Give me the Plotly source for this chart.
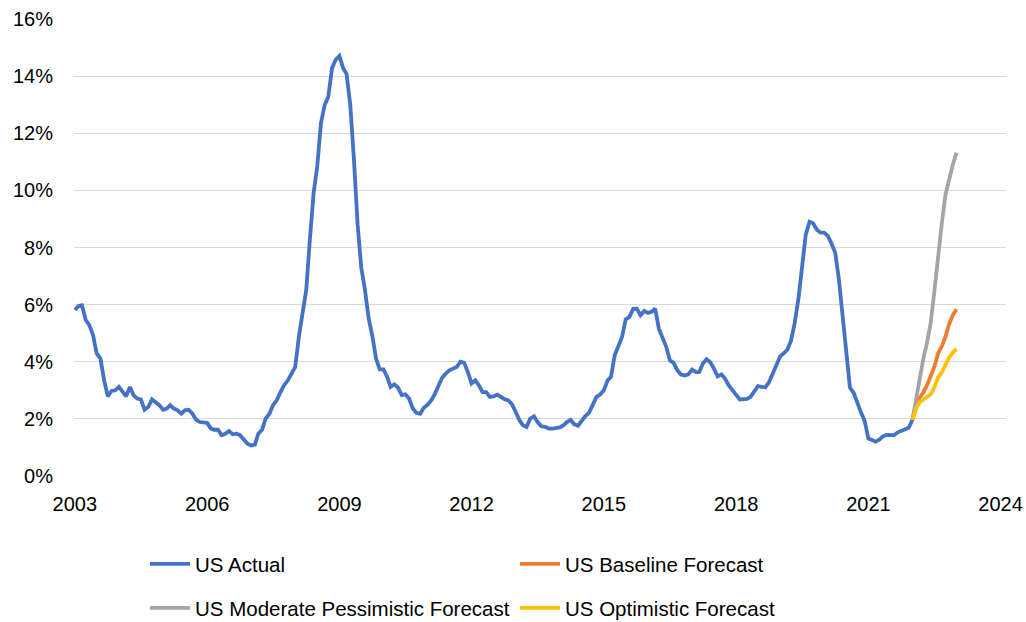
import pandas as pd
import plotly.graph_objects as go

# ---------------- data (monthly) ----------------
actual_start = "2003-01-01"
us_actual = [
    5.81, 5.95, 5.98, 5.46, 5.28, 4.93, 4.29, 4.11, 3.35, 2.79, 2.98, 3.00,   # 2003
    3.12, 2.94, 2.79, 3.12, 2.83, 2.71, 2.68, 2.32, 2.42, 2.68, 2.59, 2.48,   # 2004
    2.32, 2.36, 2.48, 2.36, 2.30, 2.18, 2.30, 2.32, 2.18, 1.97, 1.89, 1.89,   # 2005
    1.86, 1.66, 1.62, 1.62, 1.43, 1.48, 1.58, 1.46, 1.48, 1.43, 1.27, 1.13,   # 2006
    1.07, 1.10, 1.48, 1.62, 2.01, 2.18, 2.48, 2.65, 2.94, 3.18, 3.35, 3.61,   # 2007
    3.82, 4.90, 5.70, 6.51, 8.26, 9.90, 10.83, 12.35, 12.99, 13.28, 14.28, 14.57,  # 2008
    14.71, 14.28, 14.08, 13.00, 11.10, 8.80, 7.30, 6.51, 5.50, 4.90, 4.10, 3.73,   # 2009
    3.73, 3.47, 3.12, 3.21, 3.10, 2.83, 2.86, 2.71, 2.36, 2.21, 2.18, 2.39,   # 2010
    2.49, 2.65, 2.86, 3.12, 3.43, 3.59, 3.70, 3.76, 3.82, 4.00, 3.96, 3.64,   # 2011
    3.24, 3.35, 3.18, 2.94, 2.94, 2.77, 2.79, 2.85, 2.77, 2.69, 2.65, 2.51,   # 2012
    2.24, 1.95, 1.78, 1.72, 2.01, 2.09, 1.89, 1.74, 1.72, 1.66, 1.66, 1.69,   # 2013
    1.70, 1.78, 1.89, 1.96, 1.81, 1.76, 1.95, 2.10, 2.22, 2.50, 2.77, 2.85,   # 2014
    3.00, 3.35, 3.47, 4.23, 4.52, 4.87, 5.48, 5.57, 5.85, 5.86, 5.63, 5.78,   # 2015
    5.71, 5.75, 5.86, 5.16, 4.84, 4.52, 4.05, 3.96, 3.70, 3.55, 3.52, 3.56,   # 2016
    3.73, 3.64, 3.64, 3.94, 4.09, 3.98, 3.76, 3.49, 3.56, 3.41, 3.17, 2.98,   # 2017
    2.84, 2.68, 2.68, 2.70, 2.77, 2.98, 3.15, 3.12, 3.11, 3.29, 3.61, 3.94,   # 2018
    4.19, 4.30, 4.42, 4.74, 5.35, 6.20, 7.24, 8.45, 8.90, 8.85, 8.62, 8.52,   # 2019
    8.52, 8.40, 8.14, 7.82, 6.90, 5.55, 4.15, 3.10, 2.91, 2.55, 2.22, 1.93,   # 2020
    1.31, 1.26, 1.20, 1.27, 1.39, 1.44, 1.43, 1.43, 1.53, 1.59, 1.62, 1.69,   # 2021
    1.97,                                                                      # 2022-01
]

forecast_start = "2022-01-01"
us_baseline = [1.97, 2.51, 2.73, 2.92, 3.17, 3.47, 3.82, 4.29, 4.54, 4.87, 5.32, 5.63, 5.84]
us_pessimistic = [1.97, 2.71, 3.41, 4.11, 4.66, 5.36, 6.45, 7.79, 8.84, 9.84, 10.39, 10.89, 11.32]
us_optimistic = [1.97, 2.36, 2.58, 2.68, 2.75, 2.86, 3.10, 3.45, 3.63, 3.91, 4.15, 4.32, 4.45]

year_ticks = ["2003", "2006", "2009", "2012", "2015", "2018", "2021", "2024"]
pct_ticks = [0, 2, 4, 6, 8, 10, 12, 14, 16]

series_names = ["US Actual", "US Baseline Forecast",
                "US Moderate Pessimistic Forecast", "US Optimistic Forecast"]
series_colors = ["#4472C4", "#ED7D31", "#A5A5A5", "#FFC000"]

# ---------------- figure ----------------
actual_dates = pd.date_range(actual_start, periods=len(us_actual), freq="MS")
forecast_dates = pd.date_range(forecast_start, periods=len(us_baseline), freq="MS")

FONT = "Liberation Sans, Arial, sans-serif"
W, H = 1026, 622

fig = go.Figure()
fig.add_trace(go.Scatter(x=actual_dates, y=us_actual, mode="lines", name=series_names[0],
                         line=dict(color=series_colors[0], width=3.8), legend="legend"))
fig.add_trace(go.Scatter(x=forecast_dates, y=us_baseline, mode="lines", name=series_names[1],
                         line=dict(color=series_colors[1], width=3.8), legend="legend"))
fig.add_trace(go.Scatter(x=forecast_dates, y=us_pessimistic, mode="lines", name=series_names[2],
                         line=dict(color=series_colors[2], width=3.8), legend="legend2"))
fig.add_trace(go.Scatter(x=forecast_dates, y=us_optimistic, mode="lines", name=series_names[3],
                         line=dict(color=series_colors[3], width=3.8), legend="legend2"))

legend_common = dict(orientation="h", xref="container", yref="container",
                     xanchor="left", yanchor="middle", entrywidth=315, entrywidthmode="pixels",
                     itemwidth=40, bgcolor="rgba(0,0,0,0)", borderwidth=0,
                     font=dict(family=FONT, size=20.5, color="#000000"))

fig.update_layout(
    width=W, height=H,
    margin=dict(l=74, r=20, t=19, b=146, autoexpand=False),
    paper_bgcolor="white", plot_bgcolor="white",
    font=dict(family=FONT, size=20, color="#000000"),
    showlegend=True,
    legend=dict(legend_common, x=145 / W, y=1 - 564 / H),
    legend2=dict(legend_common, x=145 / W, y=1 - 608 / H),
    xaxis=dict(
        type="date",
        range=["2002-12-25", "2024-02-15"],
        tickvals=[f"{y}-01-01" for y in year_ticks],
        ticktext=year_ticks,
        showgrid=False, zeroline=False, showline=False,
        ticks="", ticklabelstandoff=14,
        tickfont=dict(family=FONT, size=20, color="#000000"),
    ),
    yaxis=dict(
        range=[0, 16],
        tickvals=pct_ticks,
        ticktext=[f"{v}%" for v in pct_ticks],
        showgrid=True, gridcolor="#d9d9d9", gridwidth=1.3,
        zeroline=False, showline=False, ticks="", ticklabelstandoff=20,
        tickfont=dict(family=FONT, size=20, color="#000000"),
    ),
)

fig.write_html("out.html",
               config={"displayModeBar": False},
               post_script="document.body.style.margin='0';document.body.style.overflow='hidden';")
